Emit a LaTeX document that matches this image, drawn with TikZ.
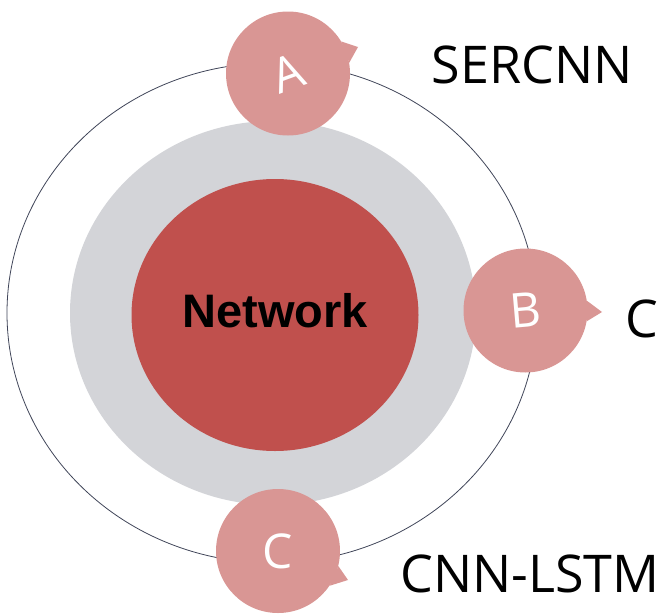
\documentclass[tikz,border=0pt]{standalone}
\usepackage{fontspec}
\setmainfont{Open Sans}
\newfontfamily\netfont{Liberation Sans}
\usetikzlibrary{shapes.geometric}
\definecolor{netred}{HTML}{C0504D}
\definecolor{ringgray}{HTML}{D3D4D8}
\definecolor{bubblered}{HTML}{D99694}
\definecolor{linegray}{HTML}{3F4458}

\begin{document}
\begin{tikzpicture}[x=1pt, y=-1pt,
  ring/.style={ellipse, inner sep=0pt},
  bubble/.style={circle, fill=bubblered, minimum size=124pt, inner sep=0pt, text=white, font=\fontsize{48}{48}\selectfont},
  tail/.style={fill=bubblered},
  lbl/.style={font=\fontsize{52}{52}\selectfont, inner sep=0pt}]
  \useasboundingbox (0,0) rectangle (661,613);
  % rings
  \node[ring, draw=linegray, line width=0.8pt, minimum width=530pt, minimum height=500pt] (outer) at (272,313) {};
  \node[ring, fill=ringgray, minimum width=406pt, minimum height=384pt] (inner) at (273,313) {};
  \node[ring, fill=netred, minimum width=287pt, minimum height=272pt] (net) at (275,315) {};
  \node[font=\netfont\bfseries\fontsize{47}{47}\selectfont, inner sep=0pt] (netlbl) at (275,311) {Network};
  % bubbles
  \node[bubble] (a) at (288,73.5) {\rotatebox{20}{A}};
  \coordinate (atip) at (358,47);
  \fill[tail] (a.31) -- (atip) -- (a.10) -- cycle;
  \node[bubble] (b) at (525.5,310.5) {\rotatebox{5}{B}};
  \coordinate (btip) at (602,312);
  \fill[tail] (b.9) -- (btip) -- (b.-10) -- cycle;
  \node[bubble] (c) at (278,551) {C};
  \coordinate (ctip) at (348,580);
  \fill[tail] (c.-14) -- (ctip) -- (c.-34) -- cycle;
  % labels
  \node[lbl] (alb) at (532,64.5) {SERCNN};
  \node[lbl] (blb) at (642,319) {C};
  \node[lbl] (clb) at (530,574) {CNN-LSTM};
\end{tikzpicture}
\end{document}
